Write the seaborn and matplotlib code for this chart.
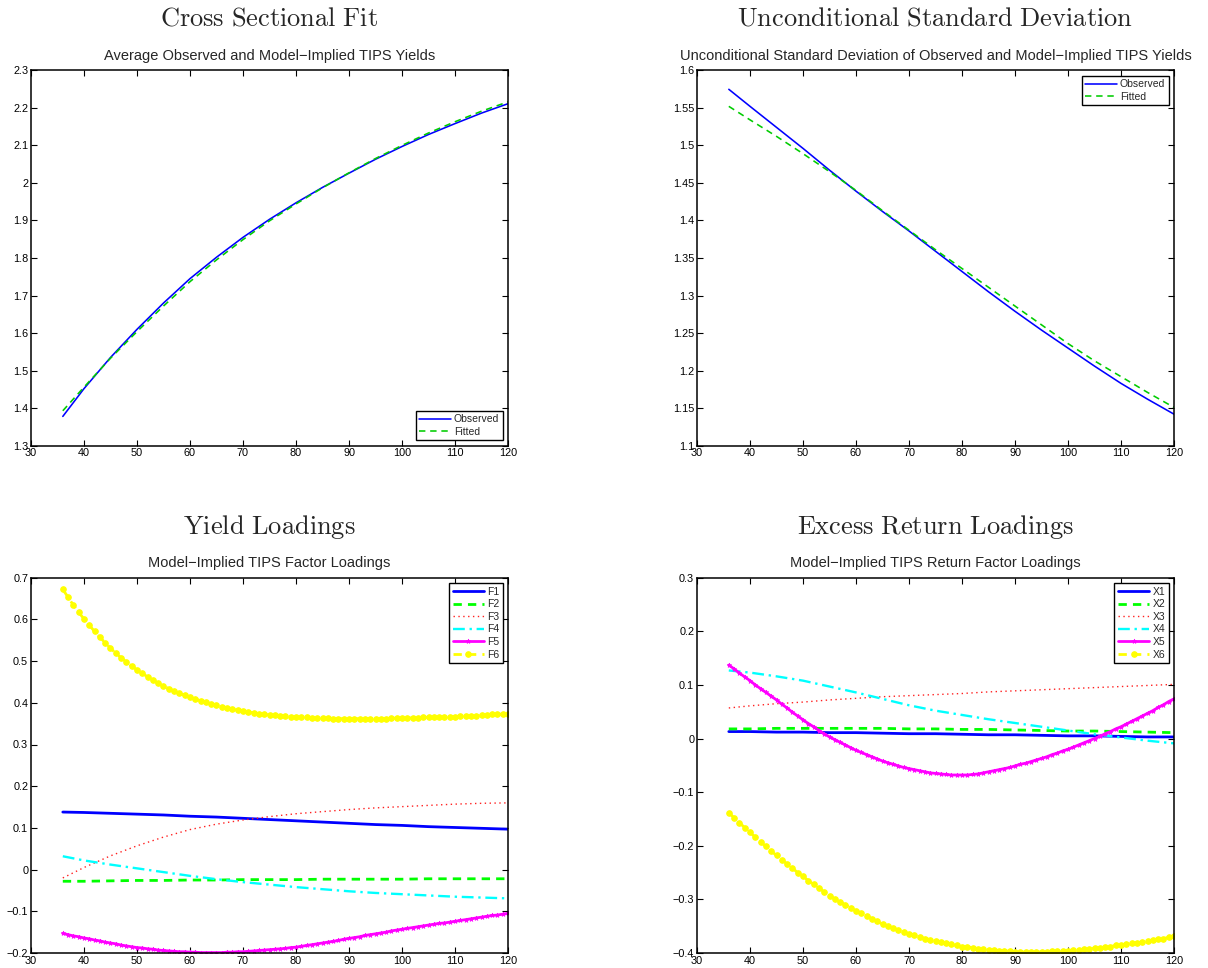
import numpy as np
import pandas as pd
import matplotlib
matplotlib.use("Agg")
import matplotlib.pyplot as plt
from matplotlib.ticker import FuncFormatter
import seaborn as sns

# ---------------- data ----------------
mat_sparse = [36, 40, 45, 50, 55, 60, 65, 70, 75, 80, 85, 90, 95, 100, 105, 110, 115, 120]
mat_full = list(range(36, 121))

avg_observed = [1.378, 1.452, 1.535, 1.610, 1.680, 1.745, 1.802, 1.855, 1.903, 1.947,
                1.988, 2.026, 2.063, 2.097, 2.129, 2.158, 2.186, 2.211]
avg_fitted = [1.393, 1.456, 1.533, 1.604, 1.672, 1.737, 1.795, 1.849, 1.899, 1.944,
              1.987, 2.027, 2.065, 2.100, 2.133, 2.163, 2.191, 2.216]

sd_observed = [1.5747, 1.552, 1.524, 1.496, 1.467, 1.439, 1.412, 1.386, 1.359, 1.332,
               1.305, 1.279, 1.254, 1.230, 1.206, 1.183, 1.162, 1.142]
sd_fitted = [1.552, 1.534, 1.512, 1.489, 1.465, 1.440, 1.413, 1.387, 1.361, 1.336,
             1.311, 1.286, 1.261, 1.236, 1.213, 1.192, 1.171, 1.151]

F1 = [0.138, 0.137, 0.135, 0.133, 0.131, 0.128, 0.126, 0.123, 0.120, 0.117,
      0.114, 0.111, 0.108, 0.106, 0.103, 0.101, 0.099, 0.097]
F2 = [-0.028, -0.028, -0.027, -0.026, -0.026, -0.025, -0.025, -0.024, -0.024, -0.024,
      -0.023, -0.023, -0.023, -0.023, -0.022, -0.022, -0.022, -0.022]
F3 = [-0.020, 0.005, 0.033, 0.057, 0.078, 0.096, 0.109, 0.119, 0.127, 0.134,
      0.139, 0.144, 0.148, 0.151, 0.154, 0.157, 0.159, 0.160]
F4 = [0.032, 0.022, 0.012, 0.003, -0.006, -0.015, -0.023, -0.030, -0.036, -0.042,
      -0.047, -0.052, -0.056, -0.059, -0.062, -0.065, -0.067, -0.069]
F5 = [-.153, -.156, -.159, -.161, -.164, -.166, -.169, -.171, -.174, -.176,
      -.178, -.181, -.183, -.185, -.187, -.188, -.190, -.191, -.193, -.194,
      -.195, -.196, -.197, -.197, -.198, -.198, -.199, -.199, -.199, -.199,
      -.199, -.198, -.198, -.197, -.197, -.196, -.195, -.194, -.193, -.192,
      -.191, -.190, -.189, -.187, -.186, -.184, -.182, -.180, -.178, -.176,
      -.174, -.172, -.170, -.167, -.165, -.163, -.161, -.158, -.156, -.154,
      -.152, -.150, -.147, -.145, -.143, -.141, -.139, -.137, -.135, -.133,
      -.131, -.129, -.128, -.126, -.124, -.122, -.120, -.118, -.116, -.114,
      -.112, -.110, -.109, -.107, -.105]
F6 = [.672, .653, .634, .617, .601, .586, .571, .557, .544, .531,
      .519, .508, .498, .488, .479, .471, .462, .454, .447, .440,
      .434, .428, .423, .418, .413, .409, .405, .401, .397, .394,
      .391, .388, .385, .382, .380, .378, .376, .374, .372, .371,
      .370, .369, .368, .367, .366, .365, .365, .364, .364, .363,
      .363, .362, .362, .362, .362, .362, .362, .362, .362, .362,
      .362, .362, .363, .363, .363, .363, .364, .364, .365, .365,
      .365, .366, .366, .367, .367, .368, .368, .369, .369, .370,
      .371, .372, .372, .373, .374]

X1 = [0.013, 0.013, 0.012, 0.012, 0.011, 0.011, 0.010, 0.009, 0.009, 0.008,
      0.007, 0.007, 0.006, 0.005, 0.005, 0.004, 0.003, 0.003]
X2 = [0.018, 0.018, 0.019, 0.019, 0.019, 0.019, 0.019, 0.018, 0.018, 0.017,
      0.017, 0.016, 0.015, 0.014, 0.014, 0.013, 0.012, 0.011]
X3 = [0.057, 0.061, 0.065, 0.068, 0.072, 0.075, 0.078, 0.080, 0.082, 0.084,
      0.087, 0.089, 0.091, 0.093, 0.095, 0.097, 0.099, 0.101]
X4 = [0.127, 0.123, 0.116, 0.108, 0.097, 0.086, 0.074, 0.062, 0.052, 0.044,
      0.036, 0.029, 0.022, 0.015, 0.008, 0.002, -0.004, -0.009]
X5 = [.137, .130, .122, .115, .108, .100, .093, .086, .079, .072,
      .064, .057, .049, .042, .035, .028, .022, .015, .009, .003,
      -.002, -.007, -.012, -.017, -.022, -.026, -.030, -.034, -.038, -.042,
      -.045, -.048, -.051, -.054, -.056, -.058, -.060, -.062, -.064, -.065,
      -.066, -.067, -.068, -.068, -.068, -.068, -.067, -.066, -.064, -.062,
      -.060, -.058, -.056, -.054, -.051, -.048, -.046, -.043, -.040, -.037,
      -.034, -.030, -.027, -.023, -.020, -.016, -.012, -.008, -.004, .000,
      .004, .009, .013, .018, .022, .027, .032, .037, .042, .047,
      .052, .058, .063, .069, .074]
X6 = [-.138, -.148, -.157, -.166, -.175, -.184, -.193, -.201, -.210, -.218,
      -.226, -.234, -.242, -.250, -.257, -.265, -.272, -.279, -.286, -.293,
      -.299, -.305, -.310, -.316, -.321, -.326, -.331, -.336, -.341, -.346,
      -.350, -.354, -.357, -.361, -.364, -.367, -.370, -.373, -.375, -.378,
      -.380, -.382, -.384, -.386, -.388, -.389, -.390, -.392, -.393, -.394,
      -.395, -.396, -.396, -.397, -.398, -.398, -.398, -.398, -.398, -.398,
      -.398, -.397, -.397, -.396, -.396, -.395, -.394, -.393, -.392, -.391,
      -.390, -.389, -.388, -.386, -.385, -.384, -.382, -.381, -.380, -.378,
      -.376, -.374, -.373, -.371, -.369]

x_ticks = [30, 40, 50, 60, 70, 80, 90, 100, 110, 120]

# ---------------- style ----------------
sns.set_style("ticks")
plt.rcParams["font.family"] = ["Liberation Sans", "DejaVu Sans"]
plt.rcParams["mathtext.fontset"] = "cm"
plt.rcParams["axes.unicode_minus"] = True

W, H = 1208, 968
fig = plt.figure(figsize=(W / 100, H / 100), dpi=100)
fig.patch.set_facecolor("white")

TICK_FS = 7.8
LEG_FS = 7.5
SUB_FS = 10.5
BIG_FS = 19


def make_axes(left, top, right, bottom):
    return fig.add_axes([left / W, 1 - bottom / H, (right - left) / W, (bottom - top) / H])


def style_axes(ax, ylim, yticks, fmt):
    ax.set_xlim(30, 120)
    ax.set_ylim(*ylim)
    ax.set_xticks(x_ticks)
    ax.set_yticks(yticks)
    ax.yaxis.set_major_formatter(FuncFormatter(lambda v, p: fmt(v)))
    ax.xaxis.set_major_formatter(FuncFormatter(lambda v, p: "%g" % v))
    ax.tick_params(direction="in", top=True, right=True, length=4, width=0.8,
                   labelsize=TICK_FS, pad=2, colors="black")
    for s in ax.spines.values():
        s.set_visible(True)
        s.set_linewidth(1.1)
        s.set_color("black")
    ax.set_xlabel("")
    ax.set_ylabel("")
    ax.grid(False)


def gfmt(v):
    s = "%g" % round(v, 4)
    if s == "-0":
        s = "0"
    return s.replace("-", "\u2212")


def legend(ax, loc):
    leg = ax.legend(loc=loc, fontsize=LEG_FS, frameon=True, fancybox=False,
                    edgecolor="black", framealpha=1, handlelength=3.0,
                    handletextpad=0.3, borderpad=0.35, labelspacing=0.25,
                    borderaxespad=0.5, numpoints=1)
    leg.get_frame().set_linewidth(1.0)
    return leg


def big_title(cx, cy, text):
    fig.text(cx / W, 1 - cy / H, text, fontsize=BIG_FS, ha="center", va="center")


def sub_title(cx, cy, text):
    fig.text(cx / W, 1 - cy / H, text, fontsize=SUB_FS, ha="center", va="center")


LX0, LX1 = 31, 508
RX0, RX1 = 697, 1174
TY0, TY1 = 70.3, 445.7
BY0, BY1 = 577.7, 953

# ---------- top-left ----------
ax1 = make_axes(LX0, TY0, LX1, TY1)
sns.lineplot(x=mat_sparse, y=avg_observed, ax=ax1, color="#0000ff", linewidth=1.15,
             label="Observed", errorbar=None)
sns.lineplot(x=mat_sparse, y=avg_fitted, ax=ax1, color="#00cc00", linewidth=1.15,
             linestyle=(0, (4, 3)), label="Fitted", errorbar=None)
style_axes(ax1, (1.3, 2.3), np.round(np.arange(1.3, 2.31, 0.1), 2), gfmt)
legend(ax1, "lower right")
big_title((LX0 + LX1) / 2, 19, r"$\mathrm{Cross\ Sectional\ Fit}$")
sub_title((LX0 + LX1) / 2, 56, "Average Observed and Model\u2212Implied TIPS Yields")

# ---------- top-right ----------
ax2 = make_axes(RX0, TY0, RX1, TY1)
sns.lineplot(x=mat_sparse, y=sd_observed, ax=ax2, color="#0000ff", linewidth=1.15,
             label="Observed", errorbar=None)
sns.lineplot(x=mat_sparse, y=sd_fitted, ax=ax2, color="#00cc00", linewidth=1.15,
             linestyle=(0, (4, 3)), label="Fitted", errorbar=None)
style_axes(ax2, (1.1, 1.6), np.round(np.arange(1.1, 1.601, 0.05), 2), gfmt)
legend(ax2, "upper right")
big_title((RX0 + RX1) / 2, 19, r"$\mathrm{Unconditional\ Standard\ Deviation}$")
sub_title((RX0 + RX1) / 2, 56,
          "Unconditional Standard Deviation of Observed and Model\u2212Implied TIPS Yields")


def loading_panel(ax, names, s1, s2, s3, s4, s5, s6):
    sns.lineplot(x=mat_sparse, y=s1, ax=ax, color="#0000ff", linewidth=2.0,
                 label=names[0], errorbar=None)
    sns.lineplot(x=mat_sparse, y=s2, ax=ax, color="#00ff00", linewidth=2.0,
                 linestyle=(0, (3, 2.2)), label=names[1], errorbar=None)
    sns.lineplot(x=mat_sparse, y=s3, ax=ax, color="#ff2020", linewidth=1.0,
                 linestyle=(0, (1, 2.5)), label=names[2], errorbar=None)
    sns.lineplot(x=mat_sparse, y=s4, ax=ax, color="#00ffff", linewidth=1.7,
                 linestyle=(0, (5, 2, 1, 2)), label=names[3], errorbar=None)
    sns.lineplot(x=mat_full, y=s5, ax=ax, color="#ff00ff", linewidth=2.0,
                 marker="*", markersize=3.5, markeredgewidth=0.5,
                 markeredgecolor="#ff00ff", label=names[4], errorbar=None)
    sns.lineplot(x=mat_full, y=s6, ax=ax, color="#ffff00", linewidth=2.0,
                 linestyle=(0, (3, 2.2)), marker="o", markersize=4.0,
                 markeredgecolor="#ffff00", markerfacecolor="#ffff00",
                 label=names[5], errorbar=None)


# ---------- bottom-left ----------
ax3 = make_axes(LX0, BY0, LX1, BY1)
loading_panel(ax3, ["F1", "F2", "F3", "F4", "F5", "F6"], F1, F2, F3, F4, F5, F6)
style_axes(ax3, (-0.2, 0.7), np.round(np.arange(-0.2, 0.71, 0.1), 2), gfmt)
legend(ax3, "upper right")
big_title((LX0 + LX1) / 2, 527, r"$\mathrm{Yield\ Loadings}$")
sub_title((LX0 + LX1) / 2, 563, "Model\u2212Implied TIPS Factor Loadings")

# ---------- bottom-right ----------
ax4 = make_axes(RX0, BY0, RX1, BY1)
loading_panel(ax4, ["X1", "X2", "X3", "X4", "X5", "X6"], X1, X2, X3, X4, X5, X6)
style_axes(ax4, (-0.4, 0.3), np.round(np.arange(-0.4, 0.31, 0.1), 2), gfmt)
legend(ax4, "upper right")
big_title((RX0 + RX1) / 2, 527, r"$\mathrm{Excess\ Return\ Loadings}$")
sub_title((RX0 + RX1) / 2, 563, "Model\u2212Implied TIPS Return Factor Loadings")

fig.savefig("out.png", dpi=100, facecolor="white")
